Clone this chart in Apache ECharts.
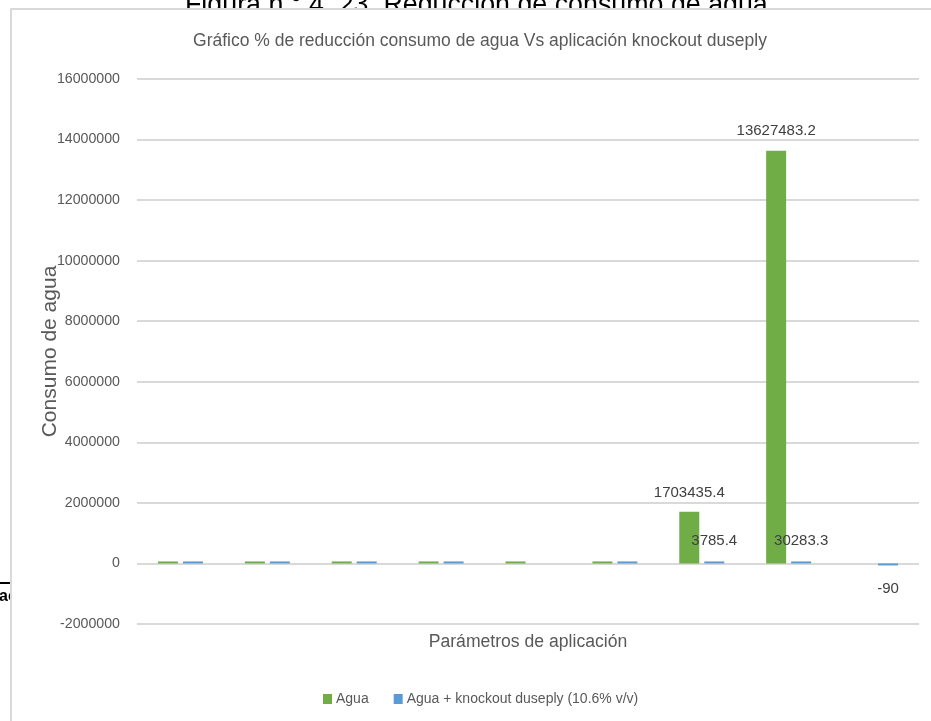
<!DOCTYPE html>
<html>
<head>
<meta charset="utf-8">
<script src="https://cdn.jsdelivr.net/npm/echarts@6/dist/echarts.min.js"></script>
<style>
html,body{margin:0;padding:0;background:#fff;}
#c{width:931px;height:721px;}
</style>
</head>
<body>
<div id="c"></div>
<script>
// Data
var categories = ['1', '2', '3', '4', '5', '6', '7', '8', '9'];
var agua = [25, 60, 40, 35, 20, 1200, 1703435.4, 13627483.2, null];
var aguaKnockout = [20, 55, 35, 30, null, 1000, 3785.4, 30283.3, -90];
var labeledAgua = [6, 7];          // indexes with data labels
var labeledKnockoutTop = [6, 7];
var labeledKnockoutBottom = [8];
var yTicks = { min: -2000000, max: 16000000, interval: 2000000 };

var FONT = '"Liberation Sans", Arial, sans-serif';
var GREY = '#595959';

function mkData(arr, top, bottom, dTop) {
  return arr.map(function (v, i) {
    if (top.indexOf(i) >= 0) {
      return { value: v, label: { show: true, position: 'top', distance: dTop } };
    }
    if (bottom.indexOf(i) >= 0) {
      return { value: v, label: { show: true, position: 'bottom', distance: 16 } };
    }
    return v;
  });
}

var chart = echarts.init(document.getElementById('c'));
chart.setOption({
  animation: false,
  backgroundColor: '#fff',
  title: {
    text: 'Gráfico % de reducción consumo de agua Vs aplicación knockout duseply',
    left: 475, top: 27, textAlign: 'center',
    textStyle: { fontFamily: FONT, fontSize: 17.5, fontWeight: 'normal', color: GREY }
  },
  graphic: [
    { type: 'text', z: -20, left: 185, top: -8,
      style: { text: 'Figura n.° 4. 23. Reducción de consumo de agua', font: '26.8px "Liberation Sans", Arial, sans-serif', fill: '#000' } },
    { type: 'line', z: -20, shape: { x1: 0, y1: 583, x2: 11, y2: 583 }, style: { stroke: '#000', lineWidth: 2 } },
    { type: 'text', z: -20, left: -1, top: 589,
      style: { text: 'ac', font: 'bold 16px "Liberation Sans", Arial, sans-serif', fill: '#000' } },
    { type: 'rect', z: -10, shape: { x: 11, y: 9, width: 940, height: 740 },
      style: { fill: '#fff', stroke: '#d9d9d9', lineWidth: 2 } }
  ],
  legend: {
    left: 318, top: 687,
    itemWidth: 9, itemHeight: 10, itemGap: 25,
    icon: 'rect',
    textStyle: { fontFamily: FONT, fontSize: 14, color: GREY, padding: [0, 0, 0, -1] },
    data: ['Agua', 'Agua + knockout duseply (10.6% v/v)']
  },
  grid: { left: 137, right: 12, top: 79, bottom: 97, containLabel: false },
  xAxis: {
    type: 'category',
    data: categories,
    name: 'Parámetros de aplicación',
    nameLocation: 'middle',
    nameGap: 9,
    nameTextStyle: { fontFamily: FONT, fontSize: 17.6, color: GREY },
    axisLine: { show: false },
    axisTick: { show: false },
    axisLabel: { show: false }
  },
  yAxis: {
    type: 'value',
    min: yTicks.min, max: yTicks.max, interval: yTicks.interval,
    name: 'Consumo de agua',
    nameLocation: 'middle',
    nameGap: 76,
    nameMoveOverlap: false,
    nameTextStyle: { fontFamily: FONT, fontSize: 21, color: GREY },
    axisLine: { show: false },
    axisTick: { show: false },
    axisLabel: { fontFamily: FONT, fontSize: 14.2, color: GREY, margin: 17,
      formatter: function (v) { return String(v); } },
    splitLine: { lineStyle: { color: '#d9d9d9', width: 2 } }
  },
  series: [
    {
      name: 'Agua', type: 'bar',
      data: mkData(agua, labeledAgua, [], 12),
      itemStyle: { color: '#70ad47' },
      barWidth: 20, barGap: '25%', barMinHeight: 2,
      label: { show: false, fontFamily: FONT, fontSize: 15, color: '#404040' }
    },
    {
      name: 'Agua + knockout duseply (10.6% v/v)', type: 'bar',
      data: mkData(aguaKnockout, labeledKnockoutTop, labeledKnockoutBottom, 13),
      itemStyle: { color: '#5b9bd5' },
      barWidth: 20, barMinHeight: 2,
      label: { show: false, fontFamily: FONT, fontSize: 15, color: '#404040' }
    }
  ]
});
</script>
</body>
</html>
